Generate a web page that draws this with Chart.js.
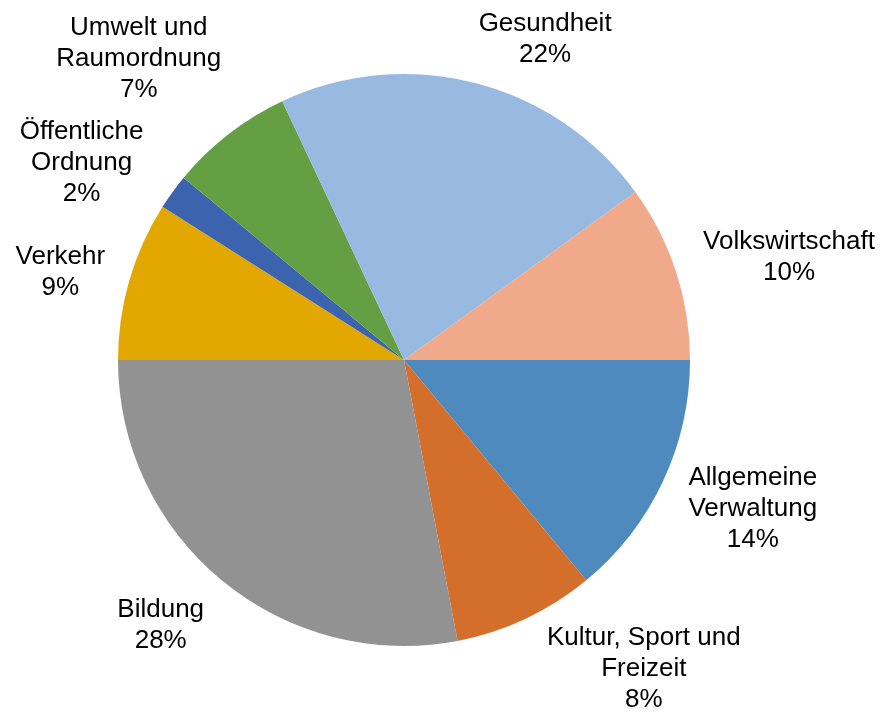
<!DOCTYPE html>
<html>
<head>
<meta charset="utf-8">
<script src="https://cdn.jsdelivr.net/npm/chart.js@4.4.1/dist/chart.umd.min.js"></script>
<style>
  html, body { margin: 0; padding: 0; background: #fff; }
  #wrap { width: 884px; height: 713px; position: relative; }
</style>
</head>
<body>
<div id="wrap"><canvas id="pieChart"></canvas></div>
<script>
// categories, in drawing order (clockwise from 3 o'clock)
const categories = [
  ["Allgemeine", "Verwaltung"],
  ["Kultur, Sport und", "Freizeit"],
  ["Bildung"],
  ["Verkehr"],
  ["Öffentliche", "Ordnung"],
  ["Umwelt und", "Raumordnung"],
  ["Gesundheit"],
  ["Volkswirtschaft"]
];
const shares = [14, 8, 28, 9, 2, 7, 22, 10];
const sliceColors = ["#4f8abe", "#d46f2b", "#929292", "#e2a800", "#3b63ae", "#64a043", "#98b9e0", "#f0a98a"];

// label block centre, relative to the point on the rim at the slice's mid angle
const labelShiftX = [90, 118, -61, -69, -91, -90, 70, 113];
const labelShiftY = [27, 50, 45, -8, -29, -75, -44, -14];

const ctx = document.getElementById('pieChart').getContext('2d');

const outsideLabels = {
  id: 'outsideLabels',
  afterDatasetsDraw(chart) {
    const c = chart.ctx;
    const arcs = chart.getDatasetMeta(0).data;
    c.save();
    c.font = '26px "Liberation Sans", Arial, sans-serif';
    c.fillStyle = '#000';
    c.textAlign = 'center';
    c.textBaseline = 'middle';
    const lineH = 31;
    arcs.forEach((arc, i) => {
      const mid = (arc.startAngle + arc.endAngle) / 2;
      const rimX = arc.x + Math.cos(mid) * arc.outerRadius;
      const rimY = arc.y + Math.sin(mid) * arc.outerRadius;
      const lines = categories[i].concat([shares[i] + '%']);
      const cx = rimX + labelShiftX[i];
      const cy = rimY + labelShiftY[i];
      const top = cy - (lines.length - 1) * lineH / 2;
      lines.forEach((t, k) => c.fillText(t, cx, top + k * lineH));
    });
    c.restore();
  }
};

new Chart(ctx, {
  type: 'pie',
  data: {
    labels: categories.map(l => l.join(' ')),
    datasets: [{
      data: shares,
      backgroundColor: sliceColors,
      borderWidth: 0
    }]
  },
  options: {
    responsive: true,
    maintainAspectRatio: false,
    animation: false,
    rotation: 90,
    layout: { padding: { left: 118, right: 194, top: 74, bottom: 67 } },
    plugins: {
      legend: { display: false },
      tooltip: { enabled: false }
    }
  },
  plugins: [outsideLabels]
});
</script>
</body>
</html>
